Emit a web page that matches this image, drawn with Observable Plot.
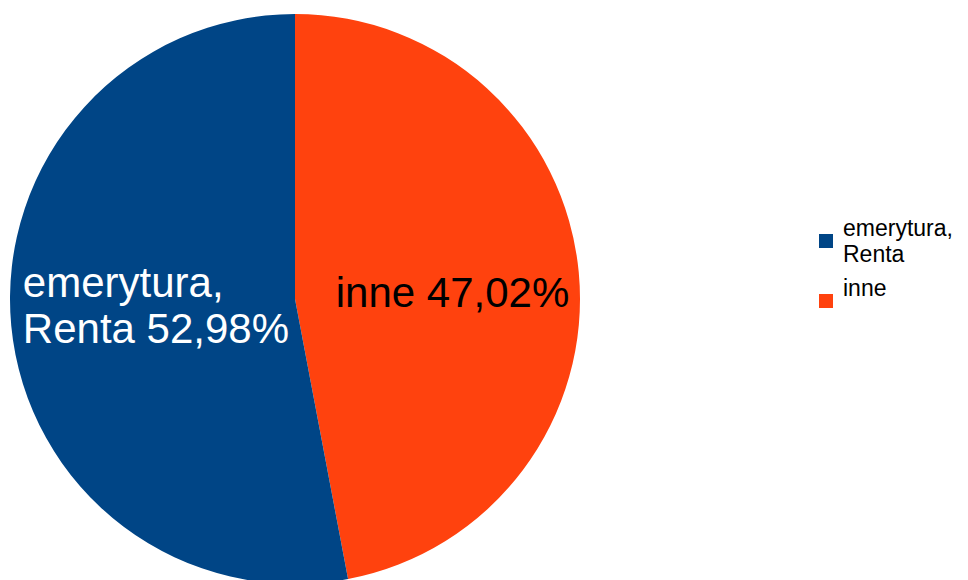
<!DOCTYPE html>
<html>
<head>
<meta charset="utf-8">
<script src="https://cdn.jsdelivr.net/npm/d3@7"></script>
<script src="https://cdn.jsdelivr.net/npm/@observablehq/plot@0.6"></script>
<style>
html,body{margin:0;padding:0;background:#fff;}
#wrap{position:relative;width:968px;height:580px;overflow:hidden;font-family:"Liberation Sans",Arial,sans-serif;}
.item{position:absolute;left:819px;font-size:23px;line-height:26px;color:#000;display:flex;align-items:flex-start;}
.sw{width:14px;height:14px;margin-top:19px;margin-right:10px;flex:none;}
</style>
</head>
<body>
<div id="wrap"><div id="chart"></div></div>
<script>
const categories = ["emerytura, Renta", "inne"];
const labelLines = [["emerytura,", "Renta 52,98%"], ["inne 47,02%"]];
const legendLines = [["emerytura,", "Renta"], ["inne"]];
const values = [52.98, 47.02];
const colors = ["#004586", "#ff420e"];
const textColors = ["#ffffff", "#000000"];

const data = categories.map((c, i) => ({category: c, value: values[i], lines: labelLines[i], textColor: textColors[i]}));

const W = 968, H = 580;
const cx = 295, cy = 299, R = 285;
const FS = 42, LH = 46;
const labelR = {"emerytura, Renta": 0.49, "inne": 0.555};
const labelDy = {"emerytura, Renta": 8, "inne": 23};

function pieMark(index, scales) {
  // "inne" starts at 12 o'clock going clockwise, then "emerytura, Renta"
  const arcs = d3.pie().value(d => d.value).sort(null)(data.slice().reverse());
  const arc = d3.arc().innerRadius(0).outerRadius(R);
  const g = d3.create("svg:g").attr("transform", `translate(${cx},${cy})`);
  g.selectAll("path").data(arcs).join("path")
    .attr("d", arc)
    .attr("fill", d => scales.color(d.data.category));
  const t = g.selectAll("text").data(arcs).join("text")
    .attr("class", "slice-label")
    .attr("font-family", "Liberation Sans, Arial, sans-serif")
    .attr("font-size", FS)
    .attr("fill", d => d.data.textColor)
    .attr("transform", d => {
      const r = R * labelR[d.data.category];
      const [x, y] = d3.arc().innerRadius(r).outerRadius(r).centroid(d);
      return `translate(${x},${y + labelDy[d.data.category]})`;
    });
  t.each(function(d) {
    const n = d.data.lines.length;
    d3.select(this).selectAll("tspan").data(d.data.lines).join("tspan")
      .attr("x", 0)
      .attr("y", (s, j) => (j - (n - 1) / 2) * LH)
      .attr("text-anchor", "middle")
      .text(s => s);
  });
  return g.node();
}

const chart = Plot.plot({
  width: W, height: H,
  margin: 0,
  style: {background: "#fff"},
  color: {domain: categories, range: colors},
  marks: [pieMark]
});
document.getElementById("chart").appendChild(chart);

// left-align lines within a centred block, as in the original
d3.select(chart).selectAll("text.slice-label").each(function() {
  const spans = d3.select(this).selectAll("tspan");
  let maxW = 0;
  spans.each(function() { maxW = Math.max(maxW, this.getComputedTextLength()); });
  spans.attr("text-anchor", "start").attr("x", -maxW / 2);
});

const wrap = d3.select("#wrap");
categories.forEach((c, i) => {
  const it = wrap.append("div").attr("class", "item").style("top", (215 + i * 59.5) + "px");
  it.append("div").attr("class", "sw").style("background", colors[i]);
  const tx = it.append("div");
  legendLines[i].forEach(l => tx.append("div").text(l));
});
</script>
</body>
</html>
